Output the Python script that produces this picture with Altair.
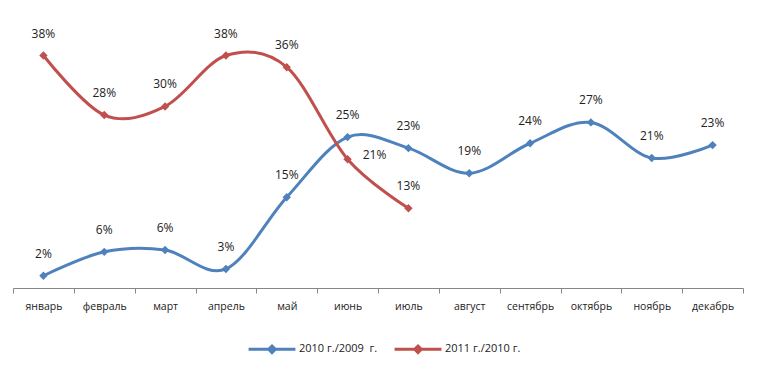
import altair as alt
import pandas as pd

months = ["январь", "февраль", "март", "апрель", "май", "июнь", "июль",
          "август", "сентябрь", "октябрь", "ноябрь", "декабрь"]
s1_name = "2010 г./2009\u00a0 г."
s2_name = "2011 г./2010 г."
s1_values = [2.0, 5.9, 6.2, 3.1, 14.8, 24.6, 22.8, 18.7, 23.6, 27.0, 21.2, 23.3]
s1_labels = ["2%", "6%", "6%", "3%", "15%", "25%", "23%", "19%", "24%", "27%", "21%", "23%"]
s2_values = [37.9, 28.2, 29.6, 37.9, 36.0, 21.0, 13.0]
s2_labels = ["38%", "28%", "30%", "38%", "36%", "21%", "13%"]
s2_label_pos = ["above", "above", "above", "above", "above", "right", "above"]

rows = []
for i, v in enumerate(s1_values):
    rows.append({"month": months[i], "order": i, "series": s1_name, "value": v,
                 "label": s1_labels[i], "pos": "above"})
for i, v in enumerate(s2_values):
    rows.append({"month": months[i], "order": i, "series": s2_name, "value": v,
                 "label": s2_labels[i], "pos": s2_label_pos[i]})
df = pd.DataFrame(rows)

font = "Open Sans"
colors = ["#4F81BD", "#C0504D"]

x = alt.X("month:N", sort=months, title=None,
          scale=alt.Scale(type="band", paddingInner=0, paddingOuter=0),
          axis=alt.Axis(tickBand="extent", labelAngle=0, labelFont=font, labelFontSize=10.5,
                        labelColor="#222222", domainColor="#868686", tickColor="#868686",
                        tickSize=5, labelPadding=8, grid=False))
y = alt.Y("value:Q", scale=alt.Scale(domain=[0, 45], nice=False), axis=None)
color = alt.Color("series:N", sort=[s1_name, s2_name],
                  scale=alt.Scale(domain=[s1_name, s2_name], range=colors),
                  legend=alt.Legend(title=None, orient="none", legendX=234, legendY=312,
                                    direction="horizontal", labelFont=font, labelFontSize=11,
                                    labelColor="#222222", columnPadding=10, labelOffset=2,
                                    symbolType="M-1,0L1,0M0,-0.14L0.14,0L0,0.14L-0.14,0Z",
                                    symbolSize=2200, symbolStrokeWidth=3))

base = alt.Chart(df)
line = base.mark_line(interpolate="cardinal", strokeWidth=3).encode(
    x=x, y=y, color=color, order="order:Q", detail="series:N")
pts = base.mark_point(shape="diamond", filled=True, size=70, opacity=1).encode(
    x=x, y=y, color=alt.Color("series:N", scale=alt.Scale(domain=[s1_name, s2_name], range=colors), legend=None))
lab_above = base.transform_filter(alt.datum.pos == "above").mark_text(
    dy=-22, font=font, fontSize=12, color="#222222").encode(x=x, y=y, text="label:N")
lab_right = base.transform_filter(alt.datum.pos == "right").mark_text(
    dx=27, dy=-4, font=font, fontSize=12, color="#222222").encode(x=x, y=y, text="label:N")

chart = alt.layer(line, pts, lab_above, lab_right).properties(
    width=730, height=276,
    autosize=alt.AutoSizeParams(type="none"),
    padding={"left": 5, "top": 4, "right": 10, "bottom": 70},
).configure(background="white").configure_view(strokeWidth=0, stroke="transparent")

chart.save("out.html", embed_options={"renderer": "svg", "actions": False})
